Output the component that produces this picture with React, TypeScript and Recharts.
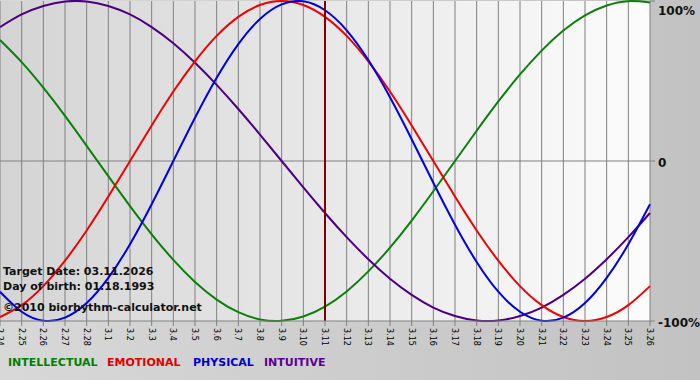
import React from 'react';
import {
  CartesianGrid,
  Line,
  LineChart,
  ReferenceLine,
  XAxis,
  YAxis,
} from 'recharts';

document.body.style.margin = '0';

const dates = [
  '2.24', '2.25', '2.26', '2.27', '2.28', '3.1', '3.2', '3.3', '3.4', '3.5', '3.6',
  '3.7', '3.8', '3.9', '3.10', '3.11', '3.12', '3.13', '3.14', '3.15', '3.16',
  '3.17', '3.18', '3.19', '3.20', '3.21', '3.22', '3.23', '3.24', '3.25', '3.26',
];

const intellectual = [
  75.6, 61.8, 45.8, 28.2, 9.5, -9.5, -28.2, -45.8, -61.8, -75.6, -86.6,
  -94.5, -99.0, -99.9, -97.2, -91.0, -81.5, -69.0, -54.1, -37.2, -18.9,
  0, 18.9, 37.2, 54.1, 69.0, 81.5, 91.0, 97.2, 99.9, 99.0,
];

const emotional = [
  -97.5, -90.1, -78.2, -62.3, -43.4, -22.2, 0, 22.2, 43.4, 62.3, 78.2,
  90.1, 97.5, 100, 97.5, 90.1, 78.2, 62.3, 43.4, 22.2, 0,
  -22.2, -43.4, -62.3, -78.2, -90.1, -97.5, -100, -97.5, -90.1, -78.2,
];

const physical = [
  -81.7, -94.2, -99.8, -97.9, -88.8, -73.1, -52.0, -27.0, 0, 27.0, 52.0,
  73.1, 88.8, 97.9, 99.8, 94.2, 81.7, 63.1, 39.8, 13.6, -13.6,
  -39.8, -63.1, -81.7, -94.2, -99.8, -97.9, -88.8, -73.1, -52.0, -27.0,
];

const intuitive = [
  83.7, 91.6, 96.9, 99.7, 99.7, 96.9, 91.6, 83.7, 73.6, 61.4, 47.6,
  32.5, 16.5, 0, -16.5, -32.5, -47.6, -61.4, -73.6, -83.7, -91.6,
  -96.9, -99.7, -99.7, -96.9, -91.6, -83.7, -73.6, -61.4, -47.6, -32.5,
];

const yTicks = [-100, 0, 100];
const yTickLabels: Record<number, string> = { '-100': '-100%', 0: '0', 100: '100%' };
const targetDate = '3.11';

const legendItems = [
  { name: 'INTELLECTUAL', color: '#008000' },
  { name: 'EMOTIONAL', color: '#e00000' },
  { name: 'PHYSICAL', color: '#0000cc' },
  { name: 'INTUITIVE', color: '#5a0090' },
];

const infoLines = [
  'Target Date: 03.11.2026',
  'Day of birth: 01.18.1993',
  '\u00a92010 biorhythm-calculator.net',
];

const data = dates.map((date, i) => ({
  date,
  intellectual: intellectual[i],
  emotional: emotional[i],
  physical: physical[i],
  intuitive: intuitive[i],
}));

const FONT = '"DejaVu Sans", Verdana, sans-serif';

function DateTick({ x, y, payload }: any) {
  return (
    <g transform={`translate(${x},${y}) rotate(90)`}>
      <text x={0} y={0} dy={3} textAnchor="start" fontSize={8} fontFamily={FONT} fill="#000">
        {payload.value}
      </text>
    </g>
  );
}

function PercentTick({ x, y, payload }: any) {
  const v = payload.value;
  const yy = v === 100 ? Math.max(y + 2, 7) : y + 2;
  return (
    <text
      x={x}
      y={yy}
      dy={4}
      textAnchor="start"
      fontSize={12}
      fontWeight="bold"
      fontFamily={FONT}
      fill="#111"
    >
      {yTickLabels[v]}
    </text>
  );
}

export default function App() {
  let lx = 8;
  const legendX = [8, 107, 193, 264];
  return (
    <div
      style={{
        position: 'relative',
        width: 700,
        height: 380,
        background: 'linear-gradient(to right, #d8d8d8, #c2c2c2)',
        overflow: 'hidden',
      }}
    >
      <svg width={0} height={0} style={{ position: 'absolute' }}>
        <defs>
          <linearGradient id="plotBg" x1="0" y1="0" x2="1" y2="0">
            <stop offset="0%" stopColor="#d4d4d4" />
            <stop offset="100%" stopColor="#fcfcfc" />
          </linearGradient>
        </defs>
      </svg>
      <LineChart
        width={700}
        height={380}
        data={data}
        margin={{ top: 1, right: 0, left: 0, bottom: 29 }}
      >
        <CartesianGrid
          horizontal={false}
          stroke="#808080"
          strokeWidth={1}
          fill="url(#plotBg)"
          fillOpacity={1}
        />
        <XAxis
          dataKey="date"
          interval={0}
          height={30}
          tickSize={5}
          tickMargin={2}
          axisLine={{ stroke: '#808080' }}
          tickLine={{ stroke: '#808080' }}
          tick={<DateTick />}
        />
        <YAxis
          orientation="right"
          width={50}
          domain={[-100, 100]}
          ticks={yTicks}
          axisLine={false}
          tickSize={5}
          tickMargin={3}
          tickLine={{ stroke: '#808080' }}
          tick={<PercentTick />}
        />
        <ReferenceLine y={0} stroke="#808080" strokeWidth={1} />
        <Line type="natural" dataKey="intellectual" stroke="#0a800a" strokeWidth={2} dot={false} isAnimationActive={false} />
        <Line type="natural" dataKey="intuitive" stroke="#4b0082" strokeWidth={2} dot={false} isAnimationActive={false} />
        <Line type="natural" dataKey="emotional" stroke="#f00000" strokeWidth={2} dot={false} isAnimationActive={false} />
        <Line type="natural" dataKey="physical" stroke="#0000e0" strokeWidth={2} dot={false} isAnimationActive={false} />
        <ReferenceLine x={targetDate} stroke="#7f0000" strokeWidth={2} />
      </LineChart>
      <svg
        width={700}
        height={380}
        style={{ position: 'absolute', left: 0, top: 0, pointerEvents: 'none' }}
      >
        {infoLines.map((t, i) => (
          <text
            key={t}
            x={3}
            y={[275, 290, 311][i]}
            fontSize={11}
            fontWeight="bold"
            fontFamily={FONT}
            fill="#111"
          >
            {t}
          </text>
        ))}
        {legendItems.map((item, i) => (
          <text
            key={item.name}
            x={legendX[i]}
            y={366}
            fontSize={11}
            fontWeight="bold"
            fontFamily={FONT}
            fill={item.color}
          >
            {item.name}
          </text>
        ))}
      </svg>
    </div>
  );
}
